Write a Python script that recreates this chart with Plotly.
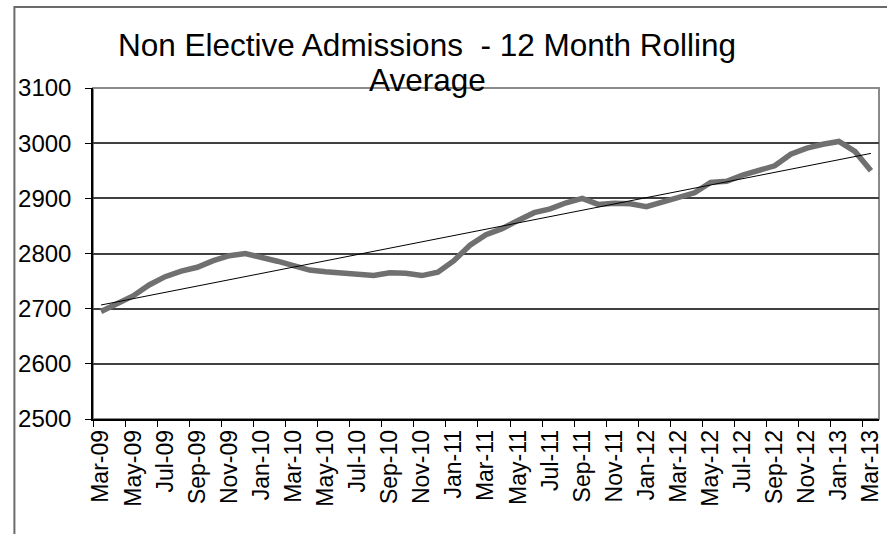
import numpy as np
import plotly.graph_objects as go

months = ["Mar-09","Apr-09","May-09","Jun-09","Jul-09","Aug-09","Sep-09","Oct-09","Nov-09","Dec-09",
          "Jan-10","Feb-10","Mar-10","Apr-10","May-10","Jun-10","Jul-10","Aug-10","Sep-10","Oct-10",
          "Nov-10","Dec-10","Jan-11","Feb-11","Mar-11","Apr-11","May-11","Jun-11","Jul-11","Aug-11",
          "Sep-11","Oct-11","Nov-11","Dec-11","Jan-12","Feb-12","Mar-12","Apr-12","May-12","Jun-12",
          "Jul-12","Aug-12","Sep-12","Oct-12","Nov-12","Dec-12","Jan-13","Feb-13","Mar-13"]
admissions = [2695, 2709, 2723, 2743, 2758, 2768, 2775, 2787, 2796, 2800,
              2794, 2786, 2778, 2770, 2767, 2764, 2762, 2760, 2765, 2764,
              2760, 2766, 2787, 2815, 2834, 2845, 2860, 2874, 2881, 2892,
              2900, 2889, 2891, 2890, 2885, 2894, 2902, 2910, 2929, 2931,
              2942, 2951, 2959, 2980, 2991, 2998, 3003, 2985, 2950]
y_ticks = [2500, 2600, 2700, 2800, 2900, 3000, 3100]
title_lines = ["Non Elective Admissions  - 12 Month Rolling", "Average"]

idx = np.arange(len(months))
slope, intercept = np.polyfit(idx, admissions, 1)
trend = slope * idx + intercept

label_idx = idx[::2]
label_txt = [months[i] for i in label_idx]

FONT = "Liberation Sans, Arial, sans-serif"

fig = go.Figure()
fig.add_trace(go.Scatter(x=idx, y=admissions, mode="lines",
                         line=dict(color="#707070", width=5.5), showlegend=False))
fig.add_trace(go.Scatter(x=idx, y=trend, mode="lines",
                         line=dict(color="#000000", width=1), showlegend=False))

# plot-area border (gray) and outer chart-area border
fig.add_shape(type="rect", xref="paper", yref="paper", x0=0, y0=0, x1=1, y1=1,
              line=dict(color="#8a8a8a", width=2), layer="below")
fig.add_shape(type="path", xref="paper", yref="paper",
              path="M -0.1,-0.4 L -0.1,1.245 L 1.05,1.245",
              line=dict(color="#6a6a6a", width=2))

# two-line title as separate annotations for exact line spacing
for txt, ypix in zip(title_lines, [45, 80]):
    fig.add_annotation(text=txt, xref="paper", yref="paper",
                       x=(429 - 93) / 790, y=(419 - ypix) / 331,
                       xanchor="center", yanchor="middle", showarrow=False,
                       font=dict(family=FONT, size=31.5, color="black"))

fig.update_layout(
    width=887, height=534,
    margin=dict(l=93, r=4, t=88, b=115),
    paper_bgcolor="white", plot_bgcolor="white",
    font=dict(family=FONT, color="black"),
    xaxis=dict(range=[-0.5, 48.5], tickmode="array", tickvals=label_idx, ticktext=label_txt,
               tickangle=-90, ticks="", showgrid=False, zeroline=False,
               showline=True, linecolor="black", linewidth=1.5,
               ticklabeloverflow="allow",
               tickfont=dict(family=FONT, size=23, color="black"),
               minor=dict(ticks="outside", tick0=-0.5, dtick=2, ticklen=6,
                          tickcolor="black", tickwidth=1, showgrid=False)),
    yaxis=dict(range=[2500, 3100], tickmode="array", tickvals=y_ticks,
               ticks="outside", ticklen=6, tickcolor="black",
               showgrid=True, gridcolor="#404040", gridwidth=1.5,
               zeroline=False, showline=True, linecolor="black", linewidth=1.5,
               tickfont=dict(family=FONT, size=24, color="black"),
               ticklabelstandoff=9),
)

fig.write_html("out.html")
